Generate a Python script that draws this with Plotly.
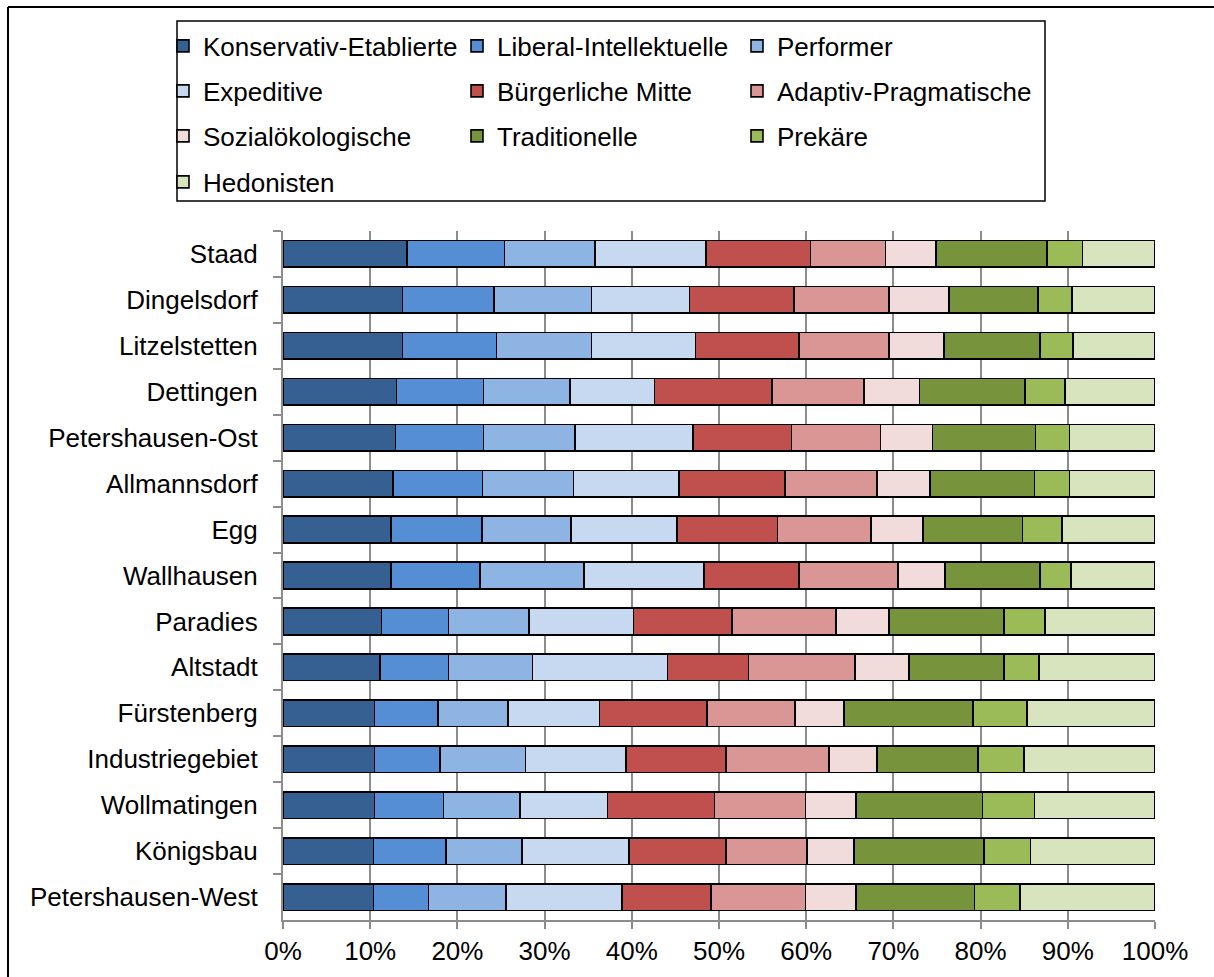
import plotly.graph_objects as go

# ---------------- data ----------------
categories = ["Staad", "Dingelsdorf", "Litzelstetten", "Dettingen", "Petershausen-Ost",
              "Allmannsdorf", "Egg", "Wallhausen", "Paradies", "Altstadt",
              "Fürstenberg", "Industriegebiet", "Wollmatingen", "Königsbau", "Petershausen-West"]

series_names = ["Konservativ-Etablierte", "Liberal-Intellektuelle", "Performer",
                "Expeditive", "Bürgerliche Mitte", "Adaptiv-Pragmatische",
                "Sozialökologische", "Traditionelle", "Prekäre", "Hedonisten"]

konservativ = [14.2, 13.7, 13.7, 13.0, 12.9, 12.6, 12.4, 12.4, 11.3, 11.1, 10.5, 10.5, 10.5, 10.4, 10.4]
liberal     = [11.2, 10.5, 10.8, 10.0, 10.1, 10.3, 10.4, 10.2, 7.7, 7.9, 7.3, 7.5, 7.9, 8.3, 6.3]
performer   = [10.4, 11.2, 10.9, 9.9, 10.5, 10.4, 10.2, 11.9, 9.2, 9.6, 8.0, 9.8, 8.8, 8.7, 8.9]
expeditive  = [12.7, 11.2, 11.9, 9.7, 13.5, 12.1, 12.2, 13.8, 12.0, 15.5, 10.5, 11.5, 10.0, 12.3, 13.3]
buergerlich = [12.0, 12.0, 11.9, 13.5, 11.3, 12.2, 11.5, 10.9, 11.3, 9.3, 12.3, 11.5, 12.3, 11.1, 10.2]
adaptiv     = [8.6, 10.9, 10.3, 10.5, 10.2, 10.5, 10.7, 11.3, 11.9, 12.2, 10.1, 11.8, 10.4, 9.3, 10.8]
sozialoeko  = [5.8, 6.9, 6.3, 6.4, 6.0, 6.1, 6.0, 5.4, 6.1, 6.2, 5.6, 5.5, 5.8, 5.4, 5.8]
traditionell= [12.7, 10.2, 11.0, 12.1, 11.8, 12.0, 11.4, 10.9, 13.2, 10.9, 14.8, 11.6, 14.5, 14.9, 13.6]
prekaere    = [4.1, 3.9, 3.8, 4.6, 3.9, 4.0, 4.5, 3.6, 4.7, 4.0, 6.2, 5.3, 6.0, 5.3, 5.2]
hedonisten  = [8.3, 9.5, 9.4, 10.3, 9.8, 9.8, 10.7, 9.6, 12.6, 13.3, 14.7, 15.0, 13.8, 14.3, 15.5]

series_values = [konservativ, liberal, performer, expeditive, buergerlich,
                 adaptiv, sozialoeko, traditionell, prekaere, hedonisten]

colors = ["#376092", "#558ED5", "#8EB4E3", "#C6D9F1", "#C0504D",
          "#D99694", "#F2DCDB", "#77933C", "#9BBB59", "#D7E4BD"]

x_tickvals = [0, 10, 20, 30, 40, 50, 60, 70, 80, 90, 100]
x_ticktext = ["0%", "10%", "20%", "30%", "40%", "50%", "60%", "70%", "80%", "90%", "100%"]

# ---------------- layout geometry ----------------
W, H = 1214, 977
PL, PR, PT, PB = 283, 1155, 231, 920


def px_x(px):
    return (px - PL) / (PR - PL)


def px_y(py):
    return (PB - py) / (PB - PT)


FONT = "Arial, 'Liberation Sans', sans-serif"
FS = 26

# legend positions: (text start x, row center y)
legend_pos = [(203, 46), (497, 46), (777, 46),
              (203, 91), (497, 91), (777, 91),
              (203, 136), (497, 136), (777, 136),
              (203, 182)]

fig = go.Figure()
for i, (name, vals, col) in enumerate(zip(series_names, series_values, colors)):
    lg = "legend" if i == 0 else f"legend{i + 1}"
    fig.add_trace(go.Bar(
        y=categories, x=vals, name=name, orientation="h",
        marker=dict(color=col, line=dict(color="#000000", width=1.6)),
        legend=lg,
    ))

layout_legends = {}
for i, (tx, ty) in enumerate(legend_pos):
    key = "legend" if i == 0 else f"legend{i + 1}"
    layout_legends[key] = dict(
        x=px_x(tx - 40), y=px_y(ty), xanchor="left", yanchor="middle",
        bgcolor="rgba(0,0,0,0)", borderwidth=0,
        font=dict(family=FONT, size=FS, color="#000000"),
        orientation="h",
    )

fig.update_layout(
    width=W, height=H,
    margin=dict(l=PL, r=W - PR, t=PT, b=H - PB, pad=0),
    barmode="stack", bargap=0.42,
    paper_bgcolor="white", plot_bgcolor="white",
    font=dict(family=FONT, size=FS, color="#000000"),
    showlegend=True,
    **layout_legends,
    xaxis=dict(
        range=[0, 100], tickvals=x_tickvals, ticktext=x_ticktext,
        showgrid=True, gridcolor="#8C8C8C", gridwidth=2,
        showline=True, linecolor="#8C8C8C", linewidth=2,
        ticks="outside", ticklen=7, tickwidth=2, tickcolor="#8C8C8C",
        zeroline=False, fixedrange=True,
        tickfont=dict(family=FONT, size=FS, color="#000000"),
    ),
    yaxis=dict(
        autorange="reversed", type="category",
        showgrid=False, showline=True, linecolor="#8C8C8C", linewidth=2,
        ticks="outside", ticklen=8, tickwidth=2, tickcolor="#8C8C8C",
        tickson="boundaries", ticklabelstandoff=18,
        zeroline=False, fixedrange=True,
        tickfont=dict(family=FONT, size=FS, color="#000000"),
    ),
    shapes=[
        # legend box
        dict(type="rect", xref="paper", yref="paper",
             x0=px_x(177), x1=px_x(1045), y0=px_y(201), y1=px_y(21),
             line=dict(color="#000000", width=1.5), fillcolor="rgba(0,0,0,0)"),
        # outer frame (top and left)
        dict(type="line", xref="paper", yref="paper",
             x0=px_x(8), x1=px_x(1214), y0=px_y(7), y1=px_y(7),
             line=dict(color="#000000", width=2)),
        dict(type="line", xref="paper", yref="paper",
             x0=px_x(8), x1=px_x(8), y0=px_y(7), y1=px_y(977),
             line=dict(color="#000000", width=2)),
    ],
)

fig.write_html("out.html", config={"displayModeBar": False},
               post_script="document.body.style.margin='0';")
